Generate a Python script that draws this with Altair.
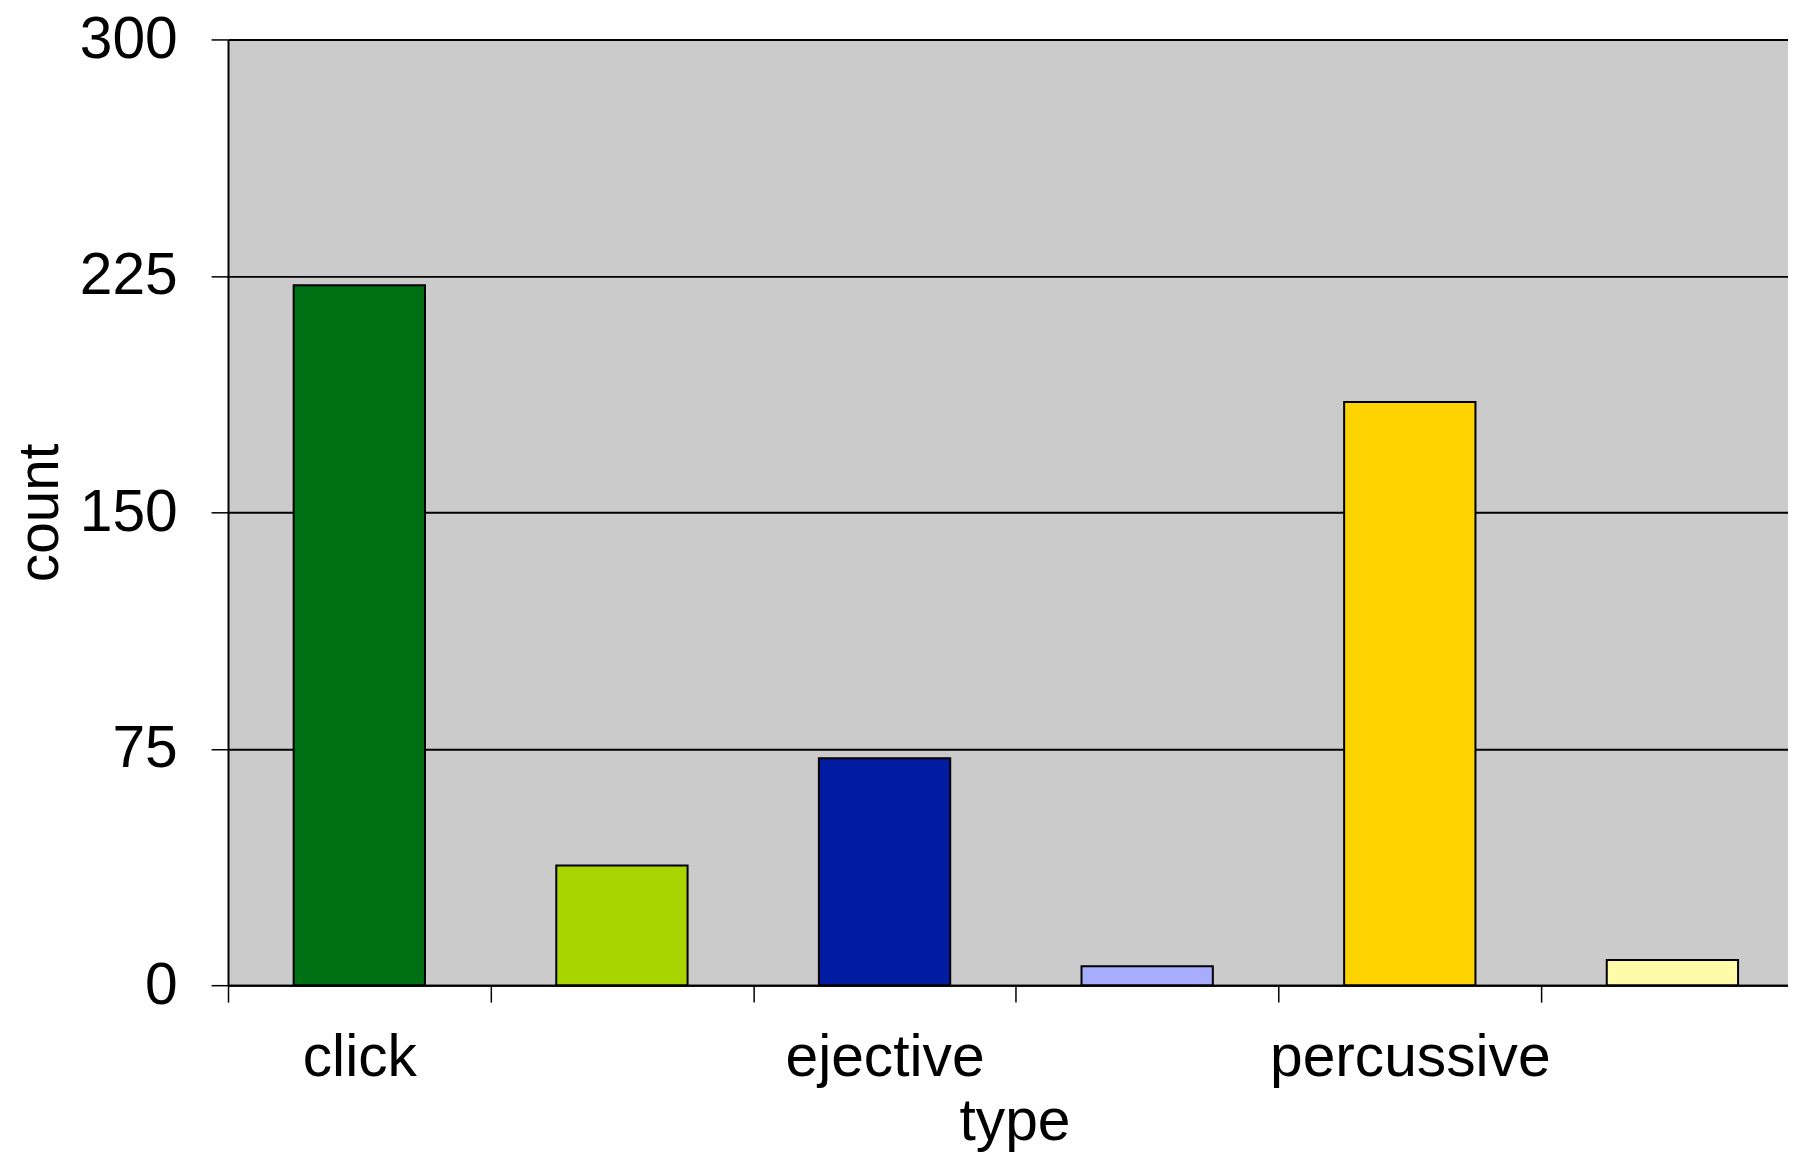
import altair as alt
import pandas as pd

categories = ["click", "click-2", "ejective", "ejective-2", "percussive", "percussive-2"]
counts = [222, 38, 72, 6, 185, 8]
colors = ["#007015", "#A8D400", "#001CA0", "#A8ACFF", "#FFD300", "#FFFBA8"]
tick_labels = ["click", "ejective", "percussive"]
y_ticks = [0, 75, 150, 225, 300]

df = pd.DataFrame({"type": categories, "count": counts})

FONT = "Liberation Sans"
FS = 59
label_expr = ("indexof([" + ",".join(f"'{t}'" for t in tick_labels)
              + "], datum.value) >= 0 ? datum.value : ''")

STEP = 263.8
HALF = STEP / 2

chart = alt.Chart(df).mark_bar(stroke="black", strokeWidth=2).encode(
    x=alt.X(
        "type:N", sort=categories,
        scale=alt.Scale(paddingInner=0.5, paddingOuter=0.22, align=0.568),
        axis=alt.Axis(
            title="type", labelExpr=label_expr, labelAngle=0, labelLimit=0,
            labelOverlap=False,
            ticks=True, tickSize=17, tickColor="black", tickWidth=1.5,
            tickOffset=-HALF, labelOffset=HALF,
            domainColor="black", domainWidth=2, grid=False,
            labelFont=FONT, labelFontSize=FS, labelColor="black", labelPadding=27,
            titleFont=FONT, titleFontSize=FS, titleFontWeight="normal",
            titleColor="black", titleX=790, titleY=155,
            titleBaseline="alphabetic", titleAlign="center",
        ),
    ),
    y=alt.Y(
        "count:Q",
        scale=alt.Scale(domain=[0, 300], nice=False),
        axis=alt.Axis(
            title="count", values=y_ticks, grid=True, gridColor="black",
            gridWidth=2, gridOpacity=1, tickSize=17, tickColor="black",
            tickWidth=1.5, domainColor="black", domainWidth=2,
            labelFont=FONT, labelFontSize=FS, labelColor="black", labelPadding=34,
            titleFont=FONT, titleFontSize=57, titleFontWeight="normal",
            titleColor="black", titlePadding=10,
        ),
    ),
    color=alt.Color("type:N", scale=alt.Scale(domain=categories, range=colors), legend=None),
).properties(
    width=1567, height=950,
    autosize=alt.AutoSizeParams(type="none"),
    padding={"left": 221, "top": 29, "right": 0, "bottom": 169},
).configure_view(fill="#CBCBCB", strokeOpacity=0)

chart.save("out.html", embed_options={"renderer": "svg", "actions": False})
